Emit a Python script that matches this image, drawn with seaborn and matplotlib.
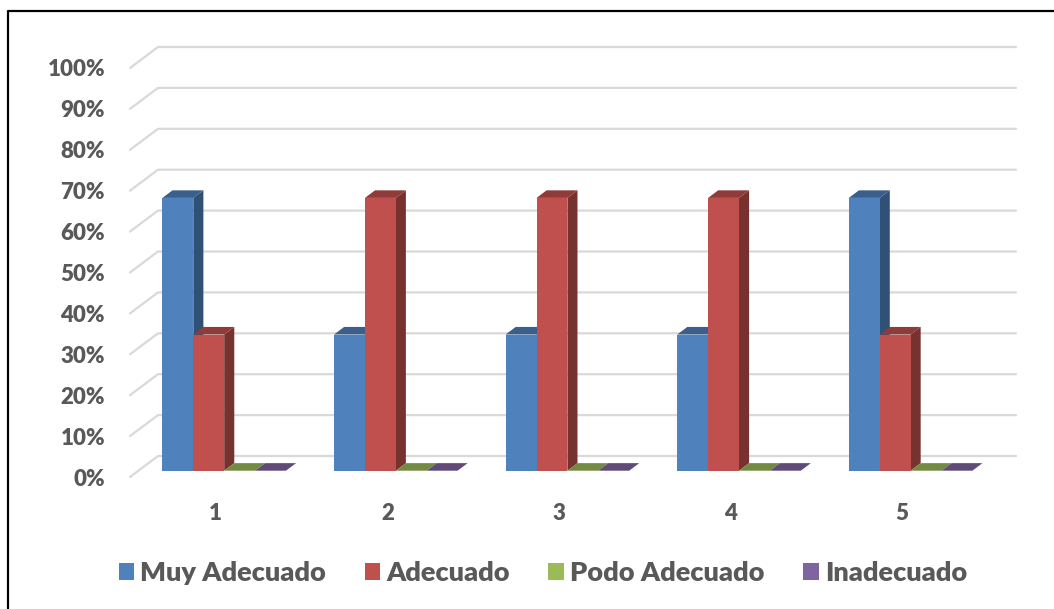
import matplotlib
matplotlib.use("Agg")
import matplotlib.pyplot as plt
import matplotlib.transforms as mtransforms
import matplotlib.colors as mcolors
from matplotlib.patches import Polygon, Rectangle
from matplotlib.lines import Line2D
import pandas as pd
import seaborn as sns

# Survey results per item (percent of answers)
categories = ["1", "2", "3", "4", "5"]
series = ["Muy Adecuado", "Adecuado", "Podo Adecuado", "Inadecuado"]
muy_adecuado = [66.7, 33.3, 33.3, 33.3, 66.7]
adecuado = [33.3, 66.7, 66.7, 66.7, 33.3]
podo_adecuado = [0, 0, 0, 0, 0]
inadecuado = [0, 0, 0, 0, 0]
y_ticks = [0, 10, 20, 30, 40, 50, 60, 70, 80, 90, 100]
y_tick_labels = [f"{t}%" for t in y_ticks]
colors = ["#4F81BD", "#C0504D", "#9BBB59", "#8064A2"]

values = [muy_adecuado, adecuado, podo_adecuado, inadecuado]
df = pd.DataFrame(
    [(cat, name, vals[i]) for name, vals in zip(series, values) for i, cat in enumerate(categories)],
    columns=["item", "serie", "valor"],
)

sns.set_theme(style="white")
plt.rcParams["font.family"] = ["Lato", "DejaVu Sans"]
TEXT = "#595959"
GRID = "#D9D9D9"
WEIGHT = 800

DPI = 100
W, H = 1054, 609
fig = plt.figure(figsize=(W / DPI, H / DPI), dpi=DPI)
fig.patch.set_facecolor("white")
ax = fig.add_axes([130 / W, (H - 477) / H, 858 / W, 409 / H])

sns.barplot(data=df, x="item", y="valor", hue="serie", order=categories,
            hue_order=series, palette=colors, width=0.72, saturation=1,
            errorbar=None, legend=False, ax=ax)
ax.set_xlim(-0.5, 4.5)
ax.set_ylim(0, 100)
ax.set_xlabel("")
ax.set_ylabel("")
for s in ax.spines.values():
    s.set_visible(False)
ax.set_facecolor("none")
ax.set_xticks(range(len(categories)))
ax.set_xticklabels(categories, fontweight=WEIGHT, fontsize=16, color=TEXT)
ax.set_yticks(y_ticks)
ax.set_yticklabels(y_tick_labels, fontweight=WEIGHT, fontsize=16, color=TEXT)
ax.tick_params(axis="y", length=0, pad=18)
ax.tick_params(axis="x", length=0, pad=19)

# oblique depth of the plot box (pixels, right / up)
DX, DY = 28.0, 21.0
F, B = 0.30, 0.66   # front and back of the columns as a fraction of depth
ident = mtransforms.IdentityTransform()
tr = ax.transData

# back wall grid with its left wall edge
for t in y_ticks:
    fx, fy = tr.transform((-0.5, t))
    rx, ry = tr.transform((4.5, t))
    ax.add_line(Line2D([fx, fx + DX, rx + DX], [fy, fy + DY, ry + DY],
                       transform=ident, color=GRID, lw=1.6, zorder=0.5,
                       clip_on=False))


def shade(c, k):
    r, g, b = mcolors.to_rgb(c)
    return (r * k, g * k, b * k)


bars = sorted(ax.patches, key=lambda p: p.get_x())
for i, p in enumerate(bars):
    x0, w, h = p.get_x(), p.get_width(), p.get_height()
    col = p.get_facecolor()
    X0, Y0 = tr.transform((x0, 0))
    X1, Yh = tr.transform((x0 + w, h))
    fx, fy = F * DX, F * DY
    bx, by = B * DX, B * DY
    z = 2 + 3 * i
    side = Polygon([(X1 + fx, Y0 + fy), (X1 + fx, Yh + fy),
                    (X1 + bx, Yh + by), (X1 + bx, Y0 + by)],
                   closed=True, transform=ident, facecolor=shade(col, 0.62),
                   edgecolor="none", zorder=z, clip_on=False)
    top = Polygon([(X0 + fx, Yh + fy), (X1 + fx, Yh + fy),
                   (X1 + bx, Yh + by), (X0 + bx, Yh + by)],
                  closed=True, transform=ident, facecolor=shade(col, 0.74),
                  edgecolor="none", zorder=z + 1, clip_on=False)
    ax.add_patch(side)
    ax.add_patch(top)
    p.set_transform(tr + mtransforms.ScaledTranslation(fx / DPI, fy / DPI, fig.dpi_scale_trans))
    p.set_edgecolor("none")
    p.set_zorder(z + 2)
    p.set_clip_on(False)

handles = [Rectangle((0, 0), 1, 1, facecolor=c, edgecolor="none") for c in colors]
leg = fig.legend(handles, series, loc="center", bbox_to_anchor=(0.515, 0.059),
                 ncol=4, frameon=False, handlelength=0.58, handleheight=0.58,
                 handletextpad=0.22, columnspacing=1.42,
                 prop={"weight": WEIGHT, "size": 19.5})
for t in leg.get_texts():
    t.set_color(TEXT)

# chart frame
fx0 = 8 / W
fy0 = 1 - 11 / H
fig.add_artist(Line2D([fx0, fx0, 1.01], [-0.01, fy0, fy0], transform=fig.transFigure,
                      color="black", lw=1.6))

fig.savefig("out.png", dpi=DPI)
